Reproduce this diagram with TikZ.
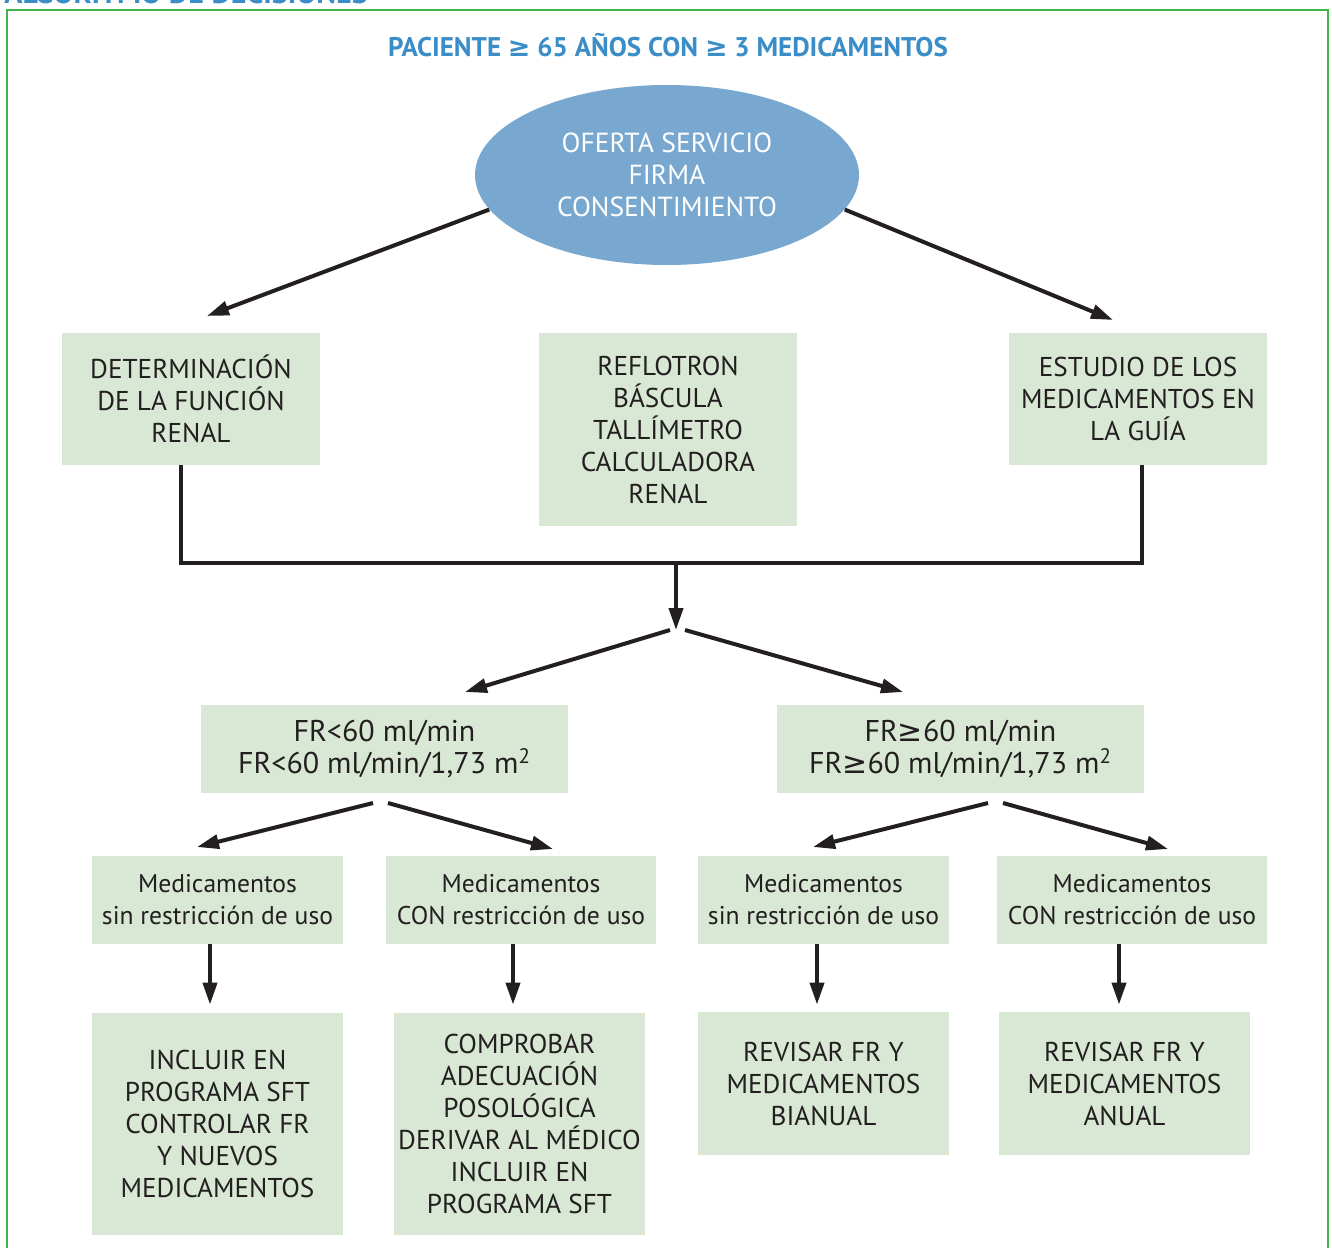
\documentclass[tikz,border=0pt]{standalone}
\usepackage{fontspec}
\setmainfont{PT Sans}
\newfontfamily\symf{DejaVu Sans}
\usetikzlibrary{shapes.geometric,arrows.meta,calc}
\definecolor{boxg}{HTML}{D8E8D5}
\definecolor{txt}{HTML}{231F20}
\definecolor{tblue}{HTML}{3A8DC6}
\definecolor{eblue}{HTML}{78A8D0}
\definecolor{fgreen}{HTML}{3FB54A}
\tikzset{
  box/.style={fill=boxg, inner sep=0pt, align=center, text=txt,
    font=\fontsize{13.6}{16}\selectfont},
  lbox/.style={box, font=\fontsize{12.8}{16}\selectfont},
  frbox/.style={box, font=\fontsize{15}{16}\selectfont},
  arr/.style={draw=txt, line width=2pt, -{Triangle[length=11pt,width=7pt]}},
  ln/.style={draw=txt, line width=2pt},
}
\begin{document}
\begin{tikzpicture}[x=0.5pt,y=-0.5pt]
\useasboundingbox (0,0) rectangle (1332,1247);
% partially visible heading
\node[anchor=south west, inner sep=0pt, text=tblue, font=\bfseries\fontsize{15}{16}\selectfont] (head) at (4,4) {ALGORITMO DE DECISIONES};
% frame
\draw[fgreen, line width=1pt] (7,1260) -- (7,10) -- (1328,10) -- (1328,1260);
% title
\node[text=tblue, font=\bfseries\fontsize{13.5}{15}\selectfont] (title) at (668,45) {PACIENTE {\symf ≥} 65 AÑOS CON {\symf ≥} 3 MEDICAMENTOS};
% ellipse
\node[ellipse, fill=eblue, inner sep=0pt, minimum width=192pt, minimum height=90pt, text=white, align=center, font=\fontsize{13.8}{16}\selectfont] (ell) at (667,175) {OFERTA SERVICIO\\FIRMA\\CONSENTIMIENTO};
% first row
\node[box, minimum width=129pt, minimum height=66pt] (b1) at (191,399) {DETERMINACIÓN\\DE LA FUNCIÓN\\RENAL};
\node[box, minimum width=129pt, minimum height=96.5pt] (b2) at (668,429.5) {REFLOTRON\\BÁSCULA\\TALLÍMETRO\\CALCULADORA\\RENAL};
\node[box, minimum width=129pt, minimum height=66pt] (b3) at (1138,399) {ESTUDIO DE LOS\\MEDICAMENTOS EN\\LA GUÍA};
% FR row
\node[frbox, minimum width=183.5pt, minimum height=44pt] (fr1) at (384.5,749) {FR<60 ml/min\\FR<60 ml/min/1,73 m\textsuperscript{2}};
\node[frbox, minimum width=183.5pt, minimum height=44pt] (fr2) at (960.5,749) {FR{\symf ≥}60 ml/min\\FR{\symf ≥}60 ml/min/1,73 m\textsuperscript{2}};
% medicamentos row
\node[lbox, minimum width=125.5pt, minimum height=44pt] (ma) at (217.5,900) {Medicamentos\\sin restricción de uso};
\node[lbox, minimum width=135pt, minimum height=44pt] (mb) at (521,900) {Medicamentos\\CON restricción de uso};
\node[lbox, minimum width=125.5pt, minimum height=44pt] (mc) at (823.5,900) {Medicamentos\\sin restricción de uso};
\node[lbox, minimum width=135pt, minimum height=44pt] (md) at (1132,900) {Medicamentos\\CON restricción de uso};
% bottom row
\node[box, minimum width=125.5pt, minimum height=111pt] (e) at (217.5,1124) {INCLUIR EN\\PROGRAMA SFT\\CONTROLAR FR\\Y NUEVOS\\MEDICAMENTOS};
\node[box, minimum width=125.5pt, minimum height=111pt] (f) at (519.5,1124) {COMPROBAR\\ADECUACIÓN\\POSOLÓGICA\\DERIVAR AL MÉDICO\\INCLUIR EN\\PROGRAMA SFT};
\node[box, minimum width=125.5pt, minimum height=71.5pt] (g) at (823.5,1083.5) {REVISAR FR Y\\MEDICAMENTOS\\BIANUAL};
\node[box, minimum width=125.5pt, minimum height=71.5pt] (h) at (1124.5,1083.5) {REVISAR FR Y\\MEDICAMENTOS\\ANUAL};
% coordinates
\coordinate (t1) at (207,316);
\coordinate (t3) at (1113,320);
\coordinate (jm) at (676,563);
\coordinate (split) at (676,630);
\coordinate (sL) at (670,630);
\coordinate (sR) at (685,630);
\coordinate (tL) at (465,692);
\coordinate (tR) at (903,692);
\coordinate (s1L) at (373,803);
\coordinate (s1R) at (388,803);
\coordinate (t1L) at (197,847);
\coordinate (t1R) at (553,849);
\coordinate (s2L) at (988,803);
\coordinate (s2R) at (1003,803);
\coordinate (t2L) at (813,847);
\coordinate (t2R) at (1168,849);
% connectors
\draw[arr] (ell.191) -- (t1);
\draw[arr] (ell.349) -- (t3);
\draw[ln] ($(b1.south)+(-10,0)$) |- (jm) -| ($(b3.south)+(4,0)$);
\draw[arr] (jm) -- (split);
\draw[arr] (sL) -- (tL);
\draw[arr] (sR) -- (tR);
\draw[arr] (s1L) -- (t1L);
\draw[arr] (s1R) -- (t1R);
\draw[arr] (s2L) -- (t2L);
\draw[arr] (s2R) -- (t2R);
\draw[arr] ($(ma.south)+(-7.5,0)$) -- ($(e.north)+(-7.5,-8)$);
\draw[arr] ($(mb.south)+(-8,0)$) -- ($(f.north)+(-6.5,-8)$);
\draw[arr] ($(mc.south)+(-6.5,0)$) -- ($(g.north)+(-6.5,-7)$);
\draw[arr] ($(md.south)+(-13,0)$) -- ($(h.north)+(-5.5,-7)$);
\end{tikzpicture}
\end{document}
